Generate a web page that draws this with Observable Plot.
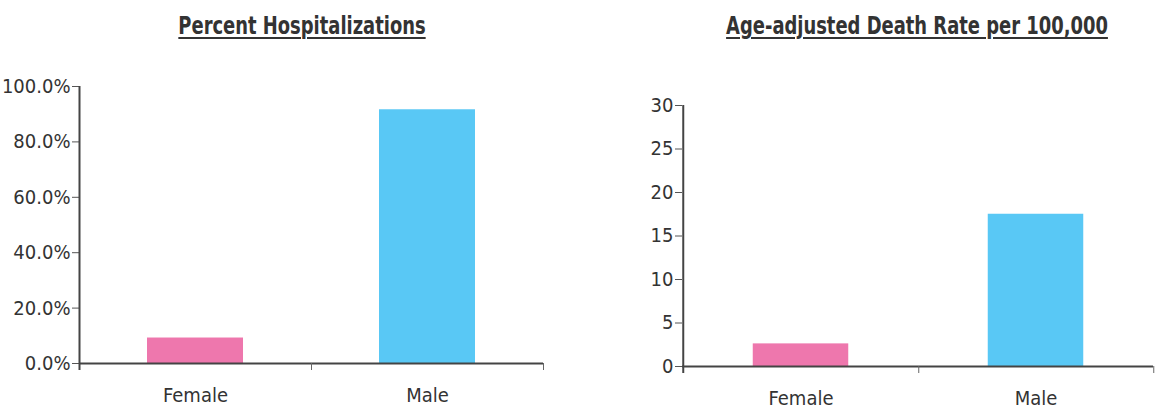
<!DOCTYPE html>
<html>
<head>
<meta charset="utf-8">
<script src="https://cdn.jsdelivr.net/npm/d3@7"></script>
<script src="https://cdn.jsdelivr.net/npm/@observablehq/plot@0.6"></script>
<style>
  html, body { margin: 0; padding: 0; background: #fff; }
  #root { position: relative; width: 1156px; height: 411px; overflow: hidden; font-family: "DejaVu Sans Condensed", "Liberation Sans Narrow", sans-serif; font-stretch: condensed; }
  .title { position: absolute; top: 13px; font-size: 24px; line-height: 26px; font-weight: bold; color: #333;
           text-decoration: underline; text-decoration-thickness: 2px; text-underline-offset: 3px; white-space: nowrap;
           transform: translateX(-50%) scaleX(0.83); transform-origin: 50% 50%; }
  .chart { position: absolute; top: 50px; }
</style>
</head>
<body>
<div id="root"></div>
<script>
const categories = ["Female", "Male"];
const barColors = ["#EE77AD", "#59C8F5"];

const hospTitle = "Percent Hospitalizations";
const hospValues = [9.2, 91.6];
const hospTicks = [0, 20, 40, 60, 80, 100];

const deathTitle = "Age-adjusted Death Rate per 100,000";
const deathValues = [2.6, 17.5];
const deathTicks = [0, 5, 10, 15, 20, 25, 30];

const FONT = '"DejaVu Sans Condensed", "Liberation Sans Narrow", sans-serif';

function chart({values, ticks, yMax, fmt, width, height, marginLeft, marginRight, marginTop, marginBottom}) {
  const data = categories.map((c, i) => ({cat: c, value: values[i]}));
  const step = (width - marginLeft - marginRight) / categories.length;
  const barW = 96;
  const inset = (step - barW) / 2;
  return Plot.plot({
    width, height, marginLeft, marginRight, marginTop, marginBottom,
    style: {fontFamily: FONT, fontStretch: "condensed", fontSize: "20px", color: "#333", background: "#fff"},
    x: {domain: categories, padding: 0, axis: null},
    y: {domain: [0, yMax], axis: null},
    color: {domain: categories, range: barColors},
    marks: [
      Plot.barY(data, {x: "cat", y: "value", fill: "cat", insetLeft: inset, insetRight: inset}),
      Plot.axisY({ticks, tickSize: 7, tickPadding: 2, tickFormat: fmt, stroke: "#555", fontSize: 20, fill: "#333", label: null}),
      Plot.ruleX([categories[0]], {dx: -step / 2, y1: yMax, y2: 0, insetBottom: -7, stroke: "#444", strokeWidth: 2}),
      Plot.ruleY([0], {stroke: "#444", strokeWidth: 2}),
      Plot.axisX({tickSize: 7, dx: step / 2, text: null, stroke: "#666", label: null}),
      Plot.axisX({tickSize: 0, tickPadding: 24, fontSize: 20, fill: "#333", label: null})
    ]
  });
}

const root = document.getElementById("root");

function addTitle(text, cx) {
  const t = document.createElement("div");
  t.className = "title";
  t.textContent = text;
  t.style.left = cx + "px";
  root.appendChild(t);
}

addTitle(hospTitle, 302);
addTitle(deathTitle, 917);

const left = chart({values: hospValues, ticks: hospTicks, yMax: 100, fmt: d => d.toFixed(1) + "%",
  width: 578, height: 361, marginLeft: 79, marginRight: 35, marginTop: 36, marginBottom: 48});
const lw = document.createElement("div");
lw.className = "chart"; lw.style.left = "0px";
lw.appendChild(left); root.appendChild(lw);

const right = chart({values: deathValues, ticks: deathTicks, yMax: 30, fmt: d => String(d),
  width: 578, height: 361, marginLeft: 104, marginRight: 3, marginTop: 55, marginBottom: 45});
const rw = document.createElement("div");
rw.className = "chart"; rw.style.left = "578px";
rw.appendChild(right); root.appendChild(rw);
</script>
</body>
</html>
